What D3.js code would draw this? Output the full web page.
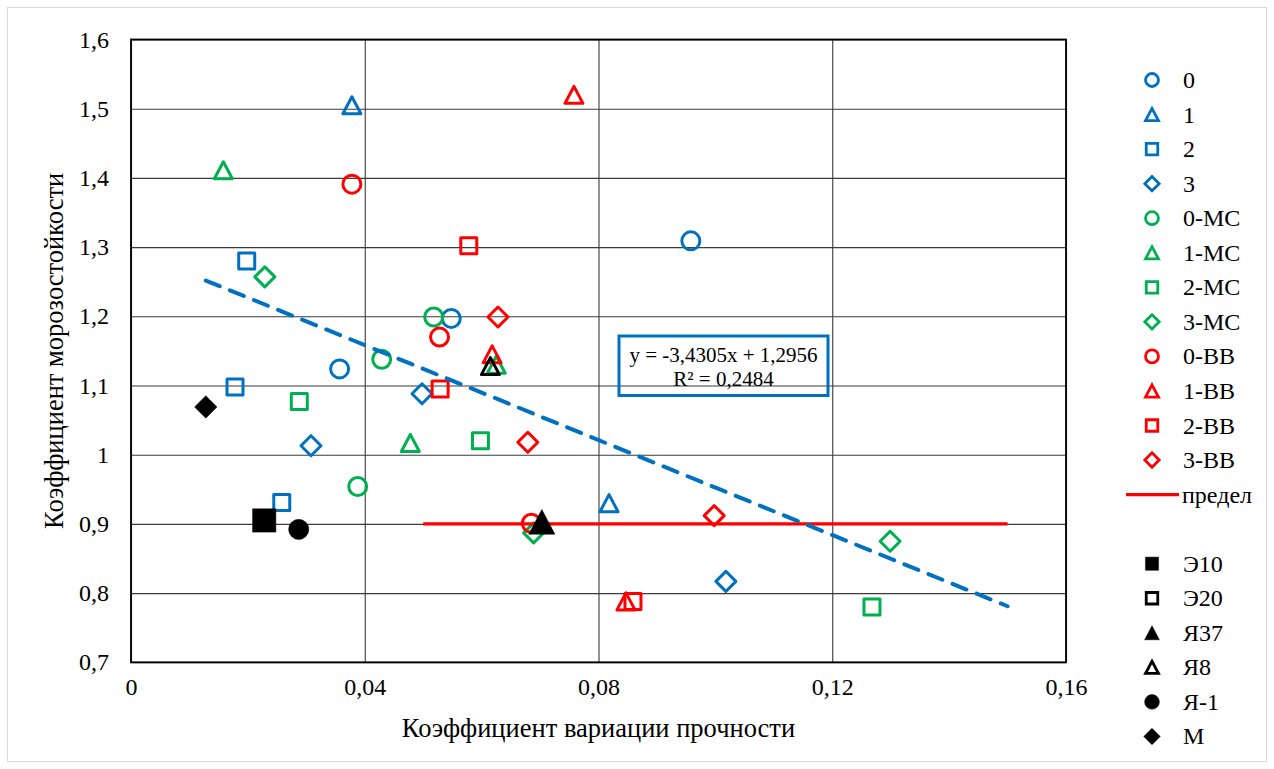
<!DOCTYPE html>
<html>
<head>
<meta charset="utf-8">
<script src="https://cdn.jsdelivr.net/npm/d3@7"></script>
<style>
  body { margin: 0; background: #fff; }
  text { font-family: "Liberation Serif", "Times New Roman", serif; fill: #000; }
</style>
</head>
<body>
<div id="chart"></div>
<script>
// Series values, [x, y]
const s0 = [[0.0357, 1.124], [0.0548, 1.197], [0.0958, 1.309]];
const s1 = [[0.0378, 1.505], [0.0818, 0.930]];
const s2 = [[0.0198, 1.280], [0.0178, 1.098], [0.0258, 0.931]];
const s3 = [[0.0308, 1.013], [0.0498, 1.088], [0.1018, 0.817]];
const s0MC = [[0.0518, 1.199], [0.0429, 1.138], [0.0388, 0.954]];
const s1MC = [[0.0158, 1.411], [0.0478, 1.017], [0.0625, 1.130]];
const s2MC = [[0.0288, 1.077], [0.0598, 1.020], [0.1268, 0.780]];
const s3MC = [[0.0229, 1.257], [0.0689, 0.887], [0.1299, 0.875]];
const s0BB = [[0.0378, 1.391], [0.0528, 1.170], [0.0685, 0.901]];
const s1BB = [[0.0758, 1.520], [0.0618, 1.145], [0.0847, 0.788]];
const s2BB = [[0.0578, 1.302], [0.0529, 1.095], [0.0859, 0.788]];
const s3BB = [[0.0628, 1.199], [0.0679, 1.018], [0.0998, 0.912]];
const limitLine = [[0.05, 0.9], [0.15, 0.9]];
const sE10 = [[0.0228, 0.905]];
const sE20 = [[0.0228, 0.905]];
const sJ37 = [[0.0703, 0.903]];
const sJ8 = [[0.0615, 1.128]];
const sJ1 = [[0.0287, 0.892]];
const sM = [[0.0128, 1.069]];

// trend line y = -3,4305x + 1,2956
const trendSlope = -3.4305;
const trendIntercept = 1.2956;
const trendRange = [0.0128, 0.15];
const trendLabel = ["y = -3,4305x + 1,2956", "R² = 0,2484"];

const xTicks = [0, 0.04, 0.08, 0.12, 0.16];
const yTicks = [0.7, 0.8, 0.9, 1.0, 1.1, 1.2, 1.3, 1.4, 1.5, 1.6];
const xTitle = "Коэффициент вариации прочности";
const yTitle = "Коэффициент морозостойкости";

const BLUE = "#0070C0", GREEN = "#00B050", RED = "#FF0000", BLACK = "#000000";

const series = [
  { name: "0", data: s0, color: BLUE, shape: "circle", fill: false },
  { name: "1", data: s1, color: BLUE, shape: "triangle", fill: false },
  { name: "2", data: s2, color: BLUE, shape: "square", fill: false },
  { name: "3", data: s3, color: BLUE, shape: "diamond", fill: false },
  { name: "0-МС", data: s0MC, color: GREEN, shape: "circle", fill: false },
  { name: "1-МС", data: s1MC, color: GREEN, shape: "triangle", fill: false },
  { name: "2-МС", data: s2MC, color: GREEN, shape: "square", fill: false },
  { name: "3-МС", data: s3MC, color: GREEN, shape: "diamond", fill: false },
  { name: "0-ВВ", data: s0BB, color: RED, shape: "circle", fill: false },
  { name: "1-ВВ", data: s1BB, color: RED, shape: "triangle", fill: false },
  { name: "2-ВВ", data: s2BB, color: RED, shape: "square", fill: false },
  { name: "3-ВВ", data: s3BB, color: RED, shape: "diamond", fill: false },
  { name: "предел", data: limitLine, color: RED, shape: "line" },
  { name: "", data: [], shape: "none" },
  { name: "Э10", data: sE10, color: BLACK, shape: "square", fill: true, big: true },
  { name: "Э20", data: sE20, color: BLACK, shape: "square", fill: false },
  { name: "Я37", data: sJ37, color: BLACK, shape: "triangle", fill: true, big: true },
  { name: "Я8", data: sJ8, color: BLACK, shape: "triangle", fill: false },
  { name: "Я-1", data: sJ1, color: BLACK, shape: "circle", fill: true },
  { name: "М", data: sM, color: BLACK, shape: "diamond", fill: true }
];

const width = 1274;
const height = 769;
const plot = { left: 131, right: 1066, top: 39.5, bottom: 662.3 };

// marker path around (0,0), k scales it
function markerPath(shape, k) {
  if (shape === "circle") {
    const r = 9 * k;
    return `M${r},0A${r},${r} 0 1,1 ${-r},0A${r},${r} 0 1,1 ${r},0Z`;
  }
  if (shape === "square") {
    const h = 8 * k;
    return `M${-h},${-h}H${h}V${h}H${-h}Z`;
  }
  if (shape === "triangle") {
    const w = 9 * k, h = 8.5 * k;
    return `M0,${-h}L${w},${h}L${-w},${h}Z`;
  }
  if (shape === "diamond") {
    const d = 10 * k;
    return `M0,${-d}L${d},0L0,${d}L${-d},0Z`;
  }
  return "";
}

const svg = d3.select("#chart")
  .append("svg")
  .attr("width", width)
  .attr("height", height);

// chart frame
svg.append("rect")
  .attr("x", 7.5).attr("y", 7.5)
  .attr("width", width - 15).attr("height", height - 15)
  .attr("fill", "#fff")
  .attr("stroke", "#d9d9d9");

const xScale = d3.scaleLinear().domain([0, 0.16]).range([plot.left, plot.right]);
const yScale = d3.scaleLinear().domain([0.7, 1.6]).range([plot.bottom, plot.top]);

const ru = d3.formatLocale({ decimal: ",", thousands: " ", grouping: [3], currency: ["", ""] });
const fmt = ru.format("~g");

// gridlines
svg.append("g")
  .attr("transform", `translate(${plot.left},0)`)
  .call(d3.axisLeft(yScale).tickValues(yTicks).tickFormat("").tickSize(-(plot.right - plot.left)))
  .call((g) => g.select(".domain").remove())
  .selectAll("line").attr("stroke", "#3a3a3a").attr("stroke-width", 1.1);

svg.append("g")
  .attr("transform", `translate(0,${plot.bottom})`)
  .call(d3.axisBottom(xScale).tickValues(xTicks).tickFormat("").tickSize(-(plot.bottom - plot.top)))
  .call((g) => g.select(".domain").remove())
  .selectAll("line").attr("stroke", "#3a3a3a").attr("stroke-width", 1.1);

svg.append("rect")
  .attr("x", plot.left).attr("y", plot.top)
  .attr("width", plot.right - plot.left).attr("height", plot.bottom - plot.top)
  .attr("fill", "none").attr("stroke", "#000").attr("stroke-width", 1.8);

// tick labels
const yAxis = svg.append("g")
  .attr("transform", `translate(${plot.left},0)`)
  .call(d3.axisLeft(yScale).tickValues(yTicks).tickFormat(fmt).tickSize(0).tickPadding(22));
yAxis.select(".domain").remove();
yAxis.selectAll("text").style("font-size", "24px").style("font-family", "Liberation Serif, serif").attr("fill", "#000");

const xAxis = svg.append("g")
  .attr("transform", `translate(0,${plot.bottom})`)
  .call(d3.axisBottom(xScale).tickValues(xTicks).tickFormat(fmt).tickSize(0).tickPadding(16));
xAxis.select(".domain").remove();
xAxis.selectAll("text").style("font-size", "24px").style("font-family", "Liberation Serif, serif").attr("fill", "#000");

// axis titles
svg.append("text")
  .attr("x", (plot.left + plot.right) / 2)
  .attr("y", 737)
  .attr("text-anchor", "middle")
  .style("font-size", "26.5px")
  .text(xTitle);

svg.append("text")
  .attr("transform", `translate(63,${(plot.top + plot.bottom) / 2}) rotate(-90)`)
  .attr("text-anchor", "middle")
  .style("font-size", "26.5px")
  .text(yTitle);

// series
const marks = svg.append("g").attr("class", "marks");
series.forEach((s) => {
  if (s.shape === "none") return;
  if (s.shape === "line") {
    marks.append("path")
      .attr("d", d3.line().x((d) => xScale(d[0])).y((d) => yScale(d[1]))(s.data))
      .attr("fill", "none")
      .attr("stroke", s.color)
      .attr("stroke-width", 3.2);
    return;
  }
  const k = s.big ? 1.3 : 1;
  marks.append("g")
    .selectAll("path")
    .data(s.data)
    .join("path")
    .attr("transform", (d) => `translate(${xScale(d[0])},${yScale(d[1])})`)
    .attr("d", markerPath(s.shape, s.fill ? k * 1.12 : k))
    .attr("fill", s.fill ? s.color : "none")
    .attr("stroke", s.color)
    .attr("stroke-width", s.fill ? 0.5 : 3)
    .attr("stroke-linejoin", "round");
});

// trend line
const trendData = trendRange.map((x) => [x, trendSlope * x + trendIntercept]);
svg.append("path")
  .attr("d", d3.line().x((d) => xScale(d[0])).y((d) => yScale(d[1]))(trendData))
  .attr("fill", "none")
  .attr("stroke", BLUE)
  .attr("stroke-width", 4)
  .attr("stroke-dasharray", "15,11")
  .attr("stroke-linecap", "round");

// trend label
svg.append("rect")
  .attr("x", 619).attr("y", 336)
  .attr("width", 209).attr("height", 59.5)
  .attr("fill", "none")
  .attr("stroke", BLUE)
  .attr("stroke-width", 3);

svg.append("text")
  .attr("x", 723.5).attr("text-anchor", "middle")
  .style("font-size", "21px")
  .selectAll("tspan")
  .data(trendLabel)
  .join("tspan")
  .attr("x", 723.5)
  .attr("y", (d, i) => 362 + i * 24)
  .text((d) => d);

// legend
const legend = svg.append("g").attr("transform", "translate(1152,80)");
series.forEach((s, i) => {
  const row = legend.append("g").attr("transform", `translate(0,${i * 34.55})`);
  if (s.shape === "none") return;
  if (s.shape === "line") {
    row.append("line")
      .attr("x1", -26).attr("x2", 27)
      .attr("stroke", s.color).attr("stroke-width", 3.2);
  } else {
    row.append("path")
      .attr("d", markerPath(s.shape, s.fill ? 0.82 : 0.72))
      .attr("fill", s.fill ? s.color : "none")
      .attr("stroke", s.color)
      .attr("stroke-width", s.fill ? 0.5 : 2.8);
  }
  row.append("text")
    .attr("x", s.shape === "line" ? 30 : 31)
    .attr("y", 8)
    .style("font-size", "24px")
    .text(s.name);
});
</script>
</body>
</html>
